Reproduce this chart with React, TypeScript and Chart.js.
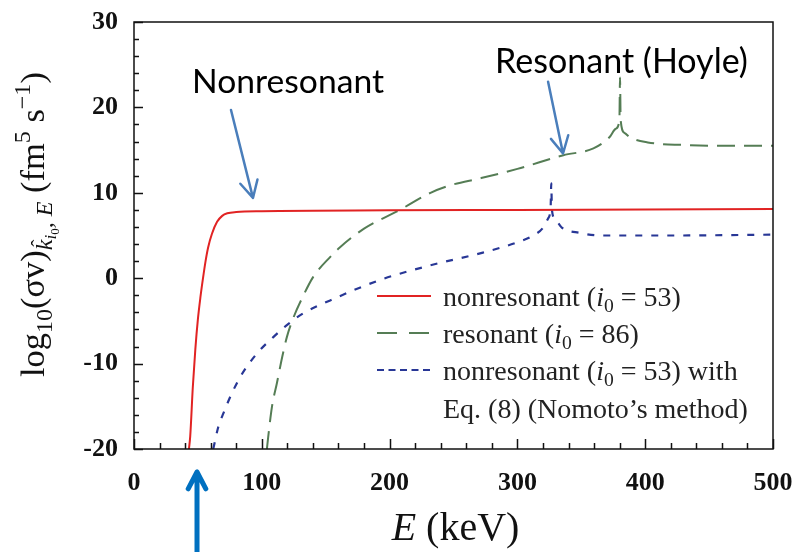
import React, { useEffect, useRef } from "react";
import { Chart, registerables } from "chart.js";

Chart.register(...registerables);

// ---- data ----
const redE = [43, 44, 46, 48, 50, 52, 54, 56, 58, 61, 65, 69, 73, 80, 100, 200, 300, 400, 500];
const redY = [-20, -18.5, -12.8, -8.3, -4.8, -2.2, 0, 2, 3.6, 5.2, 6.6, 7.3, 7.6, 7.75, 7.85, 7.95, 8.0, 8.05, 8.1];

const greenE = [104, 105, 108, 111.8, 116, 119.6, 124.8, 132, 140, 153.6, 161, 180, 208, 232, 248, 271, 300, 336, 359.5, 372, 377, 379.8, 380.3, 380.8, 384, 388, 402, 430, 454, 500];
const greenY = [-20, -18.6, -15, -12.3, -9.2, -6.9, -4.6, -2.2, 0.1, 2.5, 3.6, 5.8, 8.0, 10.0, 10.9, 11.7, 12.8, 14.4, 15.2, 16.5, 17.5, 18.5, 23.5, 18.5, 17.0, 16.5, 15.9, 15.6, 15.5, 15.5];

const blueE = [62, 66, 70, 76.5, 83, 90, 98.7, 109, 119.6, 132.5, 153.5, 192.6, 231.8, 273, 300, 312.5, 320, 324, 326, 326.5, 327, 330, 335, 349, 365, 420, 500];
const blueY = [-20, -17.4, -15.8, -13.5, -11.6, -10, -8.4, -6.9, -5.5, -4.1, -2.6, -0.2, 1.5, 3.0, 4.2, 5.0, 5.9, 7.0, 8.3, 11.1, 8.0, 6.8, 5.9, 5.3, 5.0, 5.0, 5.1];

const xMin = 0, xMax = 500, xStep = 100, xMinor = 20;
const yMin = -20, yMax = 30, yStep = 10, yMinor = 2;

const legendLabels = ["nonresonant (i0 = 53)", "resonant (i0 = 86)", "nonresonant (i0 = 53) with", "Eq. (8) (Nomoto’s method)"];
const noteNonres = "Nonresonant";
const noteRes = "Resonant (Hoyle)";

const RED = "rgb(225,35,35)";
const GREEN = "rgb(85,125,85)";
const BLUE = "rgb(40,55,150)";
const ARROW = "rgb(74,126,187)";
const ARROW2 = "rgb(0,112,192)";
const SERIF = '"Liberation Serif", "Times New Roman", serif';
const SANS = 'Lato, "Open Sans", sans-serif';

type Seg = { t: string; s: number; it?: boolean; dy?: number; hat?: boolean };

function segFont(base: number, seg: Seg) {
  return `${seg.it ? "italic " : ""}${(base * seg.s).toFixed(2)}px ${SERIF}`;
}
function richWidth(ctx: CanvasRenderingContext2D, segs: Seg[], base: number) {
  let w = 0;
  for (const s of segs) {
    ctx.font = segFont(base, s);
    w += ctx.measureText(s.t).width;
  }
  return w;
}
function drawRich(ctx: CanvasRenderingContext2D, segs: Seg[], x: number, y: number, base: number) {
  let cx = x;
  for (const s of segs) {
    ctx.font = segFont(base, s);
    const w = ctx.measureText(s.t).width;
    const yy = y + (s.dy || 0) * base;
    ctx.fillText(s.t, cx, yy);
    if (s.hat) {
      ctx.font = `${(base * s.s * 0.9).toFixed(2)}px ${SERIF}`;
      const hw = ctx.measureText("ˆ").width;
      ctx.fillText("ˆ", cx + w / 2 - hw / 2 + base * 0.05, yy - base * s.s * 0.22);
    }
    cx += w;
  }
}

function arrow(ctx: CanvasRenderingContext2D, x1: number, y1: number, x2: number, y2: number, color: string, lw: number, head: number) {
  ctx.save();
  ctx.strokeStyle = color;
  ctx.lineWidth = lw;
  ctx.lineCap = "round";
  ctx.lineJoin = "round";
  ctx.beginPath();
  ctx.moveTo(x1, y1);
  ctx.lineTo(x2, y2);
  const a = Math.atan2(y2 - y1, x2 - x1);
  const da = Math.PI / 6.5;
  ctx.moveTo(x2 - head * Math.cos(a - da), y2 - head * Math.sin(a - da));
  ctx.lineTo(x2, y2);
  ctx.lineTo(x2 - head * Math.cos(a + da), y2 - head * Math.sin(a + da));
  ctx.stroke();
  ctx.restore();
}

const decorPlugin = {
  id: "decor",
  afterDraw(chart: any) {
    const ctx: CanvasRenderingContext2D = chart.ctx;
    const { left, right, top, bottom } = chart.chartArea;
    const xs = chart.scales.x;
    const ys = chart.scales.y;
    ctx.save();
    // frame
    ctx.strokeStyle = "#111";
    ctx.lineWidth = 1.5;
    ctx.strokeRect(left, top, right - left, bottom - top);
    // inward ticks
    ctx.lineWidth = 1.5;
    ctx.beginPath();
    for (let v = xMin; v <= xMax + 1e-9; v += xMinor) {
      const px = Math.round(xs.getPixelForValue(v)) + 0.5;
      const len = Math.abs(v % xStep) < 1e-9 ? 10 : 6;
      ctx.moveTo(px, bottom);
      ctx.lineTo(px, bottom - len);
    }
    for (let v = yMin; v <= yMax + 1e-9; v += yMinor) {
      const py = Math.round(ys.getPixelForValue(v)) + 0.5;
      const len = Math.abs(v % yStep) < 1e-9 ? 9 : 5;
      ctx.moveTo(left, py);
      ctx.lineTo(left + len, py);
    }
    ctx.stroke();

    // legend
    const lx1 = left + 243, lx2 = left + 297;
    const rowsY = [296, 333, 370];
    const styles = [
      { c: RED, d: [] as number[], w: 2 },
      { c: GREEN, d: [20, 12], w: 2 },
      { c: BLUE, d: [7, 4.5], w: 2 },
    ];
    styles.forEach((st, i) => {
      ctx.strokeStyle = st.c;
      ctx.lineWidth = st.w;
      ctx.setLineDash(st.d);
      ctx.beginPath();
      ctx.moveTo(lx1, rowsY[i]);
      ctx.lineTo(lx2, rowsY[i]);
      ctx.stroke();
    });
    ctx.setLineDash([]);
    ctx.fillStyle = "#222";
    ctx.textBaseline = "alphabetic";
    ctx.textAlign = "left";
    const tx = left + 309;
    const legendSegs = (label: string): Seg[] => {
      const m = label.match(/^(.*\()i0( = .*)$/);
      if (!m) return [{ t: label, s: 1 }];
      return [
        { t: m[1], s: 1 },
        { t: "i", s: 1, it: true },
        { t: "0", s: 0.7, dy: 0.2 },
        { t: m[2], s: 1 },
      ];
    };
    const lfont = 28;
    const baseY = [306, 343, 380, 418];
    legendLabels.forEach((lab, i) => drawRich(ctx, legendSegs(lab), tx, baseY[i], lfont));

    // x title
    const xt: Seg[] = [{ t: "E", s: 1, it: true }, { t: " (keV)", s: 1 }];
    const xb = 40;
    const xw = richWidth(ctx, xt, xb);
    ctx.fillStyle = "#111";
    drawRich(ctx, xt, (left + right) / 2 - xw / 2 + 2, 540, xb);

    // y title (rotated)
    const yt: Seg[] = [
      { t: "log", s: 1 },
      { t: "10", s: 0.7, dy: 0.22 },
      { t: "(σv)", s: 1 },
      { t: "k", s: 0.7, it: true, dy: 0.22, hat: true },
      { t: "i", s: 0.5, it: true, dy: 0.36 },
      { t: "0", s: 0.38, dy: 0.44 },
      { t: ", E", s: 0.7, it: true, dy: 0.22 },
      { t: " (fm", s: 1 },
      { t: "5", s: 0.7, dy: -0.4 },
      { t: " s", s: 1 },
      { t: "−1", s: 0.7, dy: -0.4 },
      { t: ")", s: 1 },
    ];
    const target = 305;
    const yb = (100 * target) / richWidth(ctx, yt, 100);
    ctx.save();
    ctx.translate(44, 377);
    ctx.rotate(-Math.PI / 2);
    drawRich(ctx, yt, 0, 0, yb);
    ctx.restore();

    // annotations
    const fitSans = (text: string, w: number) => {
      ctx.font = `100px ${SANS}`;
      return (100 * w) / ctx.measureText(text).width;
    };
    ctx.fillStyle = "#000";
    const f1 = fitSans(noteNonres, 192);
    ctx.font = `${f1.toFixed(2)}px ${SANS}`;
    ctx.fillText(noteNonres, xs.getPixelForValue(45.4), ys.getPixelForValue(21.7));
    const f2 = fitSans(noteRes, 253);
    ctx.font = `${f2.toFixed(2)}px ${SANS}`;
    ctx.fillText(noteRes, xs.getPixelForValue(282.5), ys.getPixelForValue(24.0));

    arrow(ctx, xs.getPixelForValue(75.9), ys.getPixelForValue(19.7), xs.getPixelForValue(93.1), ys.getPixelForValue(9.4), ARROW, 2.5, 19);
    arrow(ctx, xs.getPixelForValue(324), ys.getPixelForValue(23.0), xs.getPixelForValue(335.7), ys.getPixelForValue(14.6), ARROW, 2.5, 19);
    const bx = xs.getPixelForValue(49.3);
    arrow(ctx, bx, 556, bx, 472, ARROW2, 5, 19);
    ctx.restore();
  },
};

function toPts(xa: number[], ya: number[]) {
  return xa.map((x, i) => ({ x, y: ya[i] }));
}

function zeroPad(s: any) {
  s.paddingTop = 0;
  s.paddingBottom = 0;
  s.paddingLeft = 0;
  s.paddingRight = 0;
}

export default function App() {
  const ref = useRef<HTMLCanvasElement | null>(null);
  useEffect(() => {
    if (!ref.current) return;
    const tickFont = { family: SERIF, size: 26, weight: "bold" as const };
    const chart = new Chart(ref.current, {
      type: "line",
      data: {
        datasets: [
          { label: legendLabels[0], data: toPts(redE, redY), borderColor: RED, borderWidth: 2, pointRadius: 0, cubicInterpolationMode: "monotone" },
          { label: legendLabels[1], data: toPts(greenE, greenY), borderColor: GREEN, borderWidth: 2, borderDash: [18, 9], pointRadius: 0, cubicInterpolationMode: "monotone" },
          { label: legendLabels[2], data: toPts(blueE, blueY), borderColor: BLUE, borderWidth: 2.2, borderDash: [7, 9], pointRadius: 0, cubicInterpolationMode: "monotone" },
        ],
      },
      options: {
        animation: false,
        responsive: false,
        layout: { padding: { top: 22, right: 19, left: 0, bottom: 0 } },
        plugins: { legend: { display: false }, tooltip: { enabled: false } },
        scales: {
          x: {
            type: "linear",
            min: xMin,
            max: xMax,
            ticks: { stepSize: xStep, font: tickFont, color: "#111", padding: 19, maxRotation: 0 },
            grid: { display: false, drawTicks: false },
            border: { display: false },
            afterFit: (s: any) => { s.height = 103; zeroPad(s); },
          },
          y: {
            type: "linear",
            min: yMin,
            max: yMax,
            ticks: { stepSize: yStep, font: tickFont, color: "#111", padding: 16 },
            grid: { display: false, drawTicks: false },
            border: { display: false },
            afterFit: (s: any) => { s.width = 134; zeroPad(s); },
          },
        },
      },
      plugins: [decorPlugin],
    } as any);
    return () => chart.destroy();
  }, []);
  return (
    <div style={{ position: "fixed", left: 0, top: 0, width: 792, height: 552, background: "#fff" }}>
      <canvas ref={ref} width={792} height={552} style={{ display: "block" }} />
    </div>
  );
}
